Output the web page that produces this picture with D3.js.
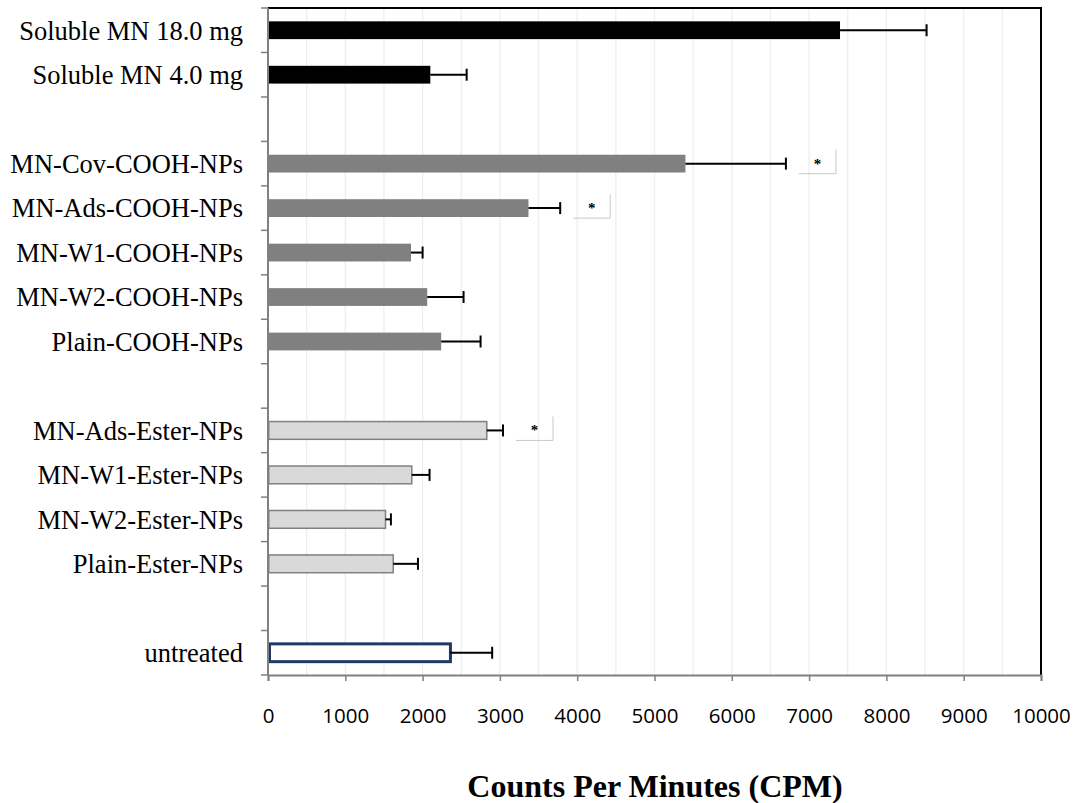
<!DOCTYPE html>
<html>
<head>
<meta charset="utf-8">
<script src="https://cdn.jsdelivr.net/npm/d3@7/dist/d3.min.js"></script>
<style>
  body { margin: 0; background: #fff; }
  svg { display: block; }
</style>
</head>
<body>
<svg id="chart" width="1077" height="803"></svg>
<script>
// Category slots from top to bottom; empty strings are spacer rows between groups
const categories = [
  "Soluble MN 18.0 mg", "Soluble MN 4.0 mg", "",
  "MN-Cov-COOH-NPs", "MN-Ads-COOH-NPs", "MN-W1-COOH-NPs", "MN-W2-COOH-NPs", "Plain-COOH-NPs", " ",
  "MN-Ads-Ester-NPs", "MN-W1-Ester-NPs", "MN-W2-Ester-NPs", "Plain-Ester-NPs", "  ",
  "untreated"
];
const values = [7400, 2100, null, 5400, 3370, 1850, 2060, 2240, null, 2830, 1860, 1520, 1620, null, 2360];
const errors = [1120, 470, null, 1300, 410, 150, 470, 510, null, 210, 230, 70, 320, null, 540];
const groups = ["soluble", "soluble", null, "cooh", "cooh", "cooh", "cooh", "cooh", null, "ester", "ester", "ester", "ester", null, "control"];
const significant = ["MN-Cov-COOH-NPs", "MN-Ads-COOH-NPs", "MN-Ads-Ester-NPs"];
const xTicks = [0, 1000, 2000, 3000, 4000, 5000, 6000, 7000, 8000, 9000, 10000];
const xTitle = "Counts Per Minutes (CPM)";

const styles = {
  soluble: { fill: "#000000", stroke: "none", sw: 0 },
  cooh:    { fill: "#808080", stroke: "none", sw: 0 },
  ester:   { fill: "#d9d9d9", stroke: "#808080", sw: 1.5 },
  control: { fill: "#ffffff", stroke: "#1f3864", sw: 3 }
};

const svg = d3.select("#chart");
const plotLeft = 268, plotRight = 1041, plotTop = 8, plotBottom = 675;

const x = d3.scaleLinear().domain([0, 10000]).range([plotLeft, plotRight]);
const y = d3.scaleBand().domain(categories).range([plotTop, plotBottom]).paddingInner(0.6).paddingOuter(0.3);
const band = d3.scaleBand().domain(categories).range([plotTop, plotBottom]);

// light vertical gridlines every 500
svg.append("g").selectAll("line")
  .data(d3.range(500, 10000, 500))
  .join("line")
  .attr("x1", d => x(d)).attr("x2", d => x(d))
  .attr("y1", plotTop).attr("y2", plotBottom)
  .attr("stroke", "#eeeeee").attr("stroke-width", 1.3);

// plot frame (top and right)
svg.append("path")
  .attr("d", `M${plotLeft},${plotTop}H${plotRight}V${plotBottom}`)
  .attr("fill", "none").attr("stroke", "#000").attr("stroke-width", 2);

const rows = categories.map((c, i) => ({ c, v: values[i], e: errors[i], g: groups[i] }))
  .filter(d => d.v != null);

// bars (outlines centred on the bar edge)
svg.append("g").selectAll("rect")
  .data(rows)
  .join("rect")
  .attr("x", d => x(0) + styles[d.g].sw / 2)
  .attr("y", d => y(d.c))
  .attr("width", d => x(d.v) - x(0) - styles[d.g].sw / 2)
  .attr("height", y.bandwidth())
  .attr("fill", d => styles[d.g].fill)
  .attr("stroke", d => styles[d.g].stroke)
  .attr("stroke-width", d => styles[d.g].sw);

// error bars
const eg = svg.append("g").attr("stroke", "#000").attr("stroke-width", 2);
rows.forEach(d => {
  const cy = y(d.c) + y.bandwidth() / 2;
  eg.append("line").attr("x1", x(d.v)).attr("x2", x(d.v + d.e)).attr("y1", cy).attr("y2", cy);
  eg.append("line").attr("x1", x(d.v + d.e)).attr("x2", x(d.v + d.e)).attr("y1", cy - 6).attr("y2", cy + 6);
});

// significance markers
rows.filter(d => significant.includes(d.c)).forEach(d => {
  const cy = y(d.c) + y.bandwidth() / 2;
  const bx = x(d.v + d.e) + 13, bw = 37;
  const by = cy - 14, bh = 24;
  svg.append("path")
    .attr("d", `M${bx + bw},${by}V${by + bh}H${bx}`)
    .attr("fill", "none").attr("stroke", "#c8c8c8").attr("stroke-width", 1);
  svg.append("text")
    .attr("x", bx + bw / 2).attr("y", by + bh / 2 + 7)
    .attr("text-anchor", "middle")
    .attr("font-family", "Liberation Serif, serif").attr("font-size", 15).attr("font-weight", "bold")
    .text("*");
});

// y axis with ticks at band boundaries
const yAxis = svg.append("g");
yAxis.append("line").attr("x1", plotLeft).attr("x2", plotLeft).attr("y1", plotTop).attr("y2", plotBottom)
  .attr("stroke", "#808080").attr("stroke-width", 2);
yAxis.selectAll(".yt")
  .data(categories.map(c => band(c)).concat([plotBottom]))
  .join("line")
  .attr("x1", plotLeft - 7).attr("x2", plotLeft).attr("y1", d => d).attr("y2", d => d)
  .attr("stroke", "#808080").attr("stroke-width", 1.5);
yAxis.selectAll("text")
  .data(categories.filter(c => c.trim() !== ""))
  .join("text")
  .attr("x", 243)
  .attr("y", d => y(d) + y.bandwidth() / 2)
  .attr("dy", "0.35em")
  .attr("text-anchor", "end")
  .attr("font-family", "Liberation Serif, Times New Roman, serif")
  .attr("font-size", 26.5)
  .attr("fill", "#000")
  .text(d => d);

// x axis
const xAxis = svg.append("g").attr("transform", `translate(0,${plotBottom})`)
  .call(d3.axisBottom(x).tickValues(xTicks).tickSize(6).tickFormat(d3.format("d")));
xAxis.select(".domain").attr("stroke", "#808080").attr("stroke-width", 2);
xAxis.selectAll(".tick line").attr("stroke", "#808080").attr("stroke-width", 1.5);
xAxis.selectAll(".tick text")
  .attr("y", 48).attr("dy", null)
  .attr("font-family", "Open Sans, Liberation Sans, sans-serif")
  .attr("font-size", 20.5).attr("fill", "#000");

svg.append("text")
  .attr("x", 655).attr("y", 797)
  .attr("text-anchor", "middle")
  .attr("font-family", "Liberation Serif, Times New Roman, serif")
  .attr("font-size", 32).attr("font-weight", "bold")
  .text(xTitle);
</script>
</body>
</html>
